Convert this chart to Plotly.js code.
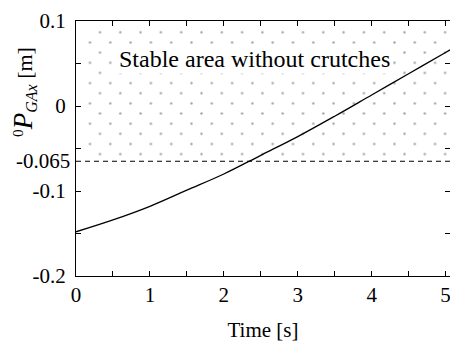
<!DOCTYPE html>
<html>
<head>
<meta charset="utf-8">
<script src="https://cdn.plot.ly/plotly-3.0.1.min.js"></script>
<style>html,body{margin:0;padding:0;background:#fff;}#chart{width:450px;height:342px;}</style>
</head>
<body>
<div id="chart"></div>
<script>
// Data
const timeS = [0, 0.5, 1.0, 1.5, 2.0, 2.5, 3.0, 3.5, 4.0, 4.5, 5.0, 5.06];
const pGAx  = [-0.148, -0.134, -0.118, -0.099, -0.080, -0.058, -0.036, -0.012, 0.013, 0.038, 0.063, 0.066];
const stableLimit = -0.065;
const xRange = [0, 5.06];
const yRange = [-0.2, 0.1];
const xTickVals = [0, 0.5, 1, 1.5, 2, 2.5, 3, 3.5, 4, 4.5, 5];
const xTickText = ['0', '', '1', '', '2', '', '3', '', '4', '', '5'];
const yTickVals = [-0.2, -0.15, -0.1, -0.05, 0, 0.05, 0.1];
const yTickText = ['-0.2', '', '-0.1', '', '0', '', '0.1'];
const regionLabel = 'Stable area without crutches';

const serif = 'Liberation Serif';

// geometry (pixels)
const W = 450, H = 342, mL = 76, mR = 0, mT = 21, mB = 66;
const plotW = W - mL - mR, plotH = H - mT - mB;
const pxPerX = plotW / (xRange[1] - xRange[0]);
const pxPerY = plotH / (yRange[1] - yRange[0]);

// staggered dot pattern: two square dot lattices, offset by half a cell
const dotCell = 20.3;
const layerOrigins = [[89.85, 22.15], [79.85, 32.35]];

function layerAxes(o) {
  const ox = o[0], oy = o[1];
  return {
    x: {domain: [(ox - mL) / plotW, 1], range: [xRange[0] + (ox - mL) / pxPerX, xRange[1]], visible: false},
    y: {domain: [0, 1 - (oy - mT) / plotH], range: [yRange[0], yRange[1] - (oy - mT) / pxPerY], visible: false}
  };
}
const la = layerAxes(layerOrigins[0]);
const lb = layerAxes(layerOrigins[1]);

function patternTrace(xa, ya) {
  return {
    x: [xRange[0], xRange[1], xRange[1], xRange[0]],
    y: [stableLimit, stableLimit, yRange[1], yRange[1]],
    xaxis: xa, yaxis: ya,
    type: 'scatter', mode: 'lines', fill: 'toself',
    line: {width: 0, color: 'rgba(0,0,0,0)'},
    fillcolor: 'rgba(0,0,0,0)',
    fillpattern: {shape: '.', fgcolor: '#a4a4a4', bgcolor: 'rgba(0,0,0,0)', size: dotCell, solidity: 0.011},
    hoverinfo: 'skip', showlegend: false
  };
}

const traces = [
  patternTrace('x', 'y'),
  patternTrace('x2', 'y2'),
  {
    x: [xRange[0], xRange[1]],
    y: [stableLimit, stableLimit],
    xaxis: 'x3', yaxis: 'y3',
    type: 'scatter', mode: 'lines',
    line: {color: 'black', width: 1, dash: '5px,4px'},
    showlegend: false
  },
  {
    x: timeS, y: pGAx,
    xaxis: 'x3', yaxis: 'y3',
    type: 'scatter', mode: 'lines',
    line: {color: 'black', width: 1.3, shape: 'spline'},
    showlegend: false
  }
];

const layout = {
  width: W, height: H,
  margin: {l: mL, r: mR, t: mT, b: mB},
  paper_bgcolor: 'white', plot_bgcolor: 'rgba(0,0,0,0)',
  font: {family: serif, color: 'black', size: 21},
  showlegend: false,
  xaxis: Object.assign({anchor: 'y'}, la.x),
  yaxis: Object.assign({anchor: 'x'}, la.y),
  xaxis2: Object.assign({anchor: 'y2'}, lb.x),
  yaxis2: Object.assign({anchor: 'x2'}, lb.y),
  xaxis3: {
    anchor: 'y3', domain: [0, 1],
    range: xRange, showgrid: false, zeroline: false,
    showline: true, linecolor: 'black', linewidth: 1, mirror: 'ticks',
    ticks: 'inside', ticklen: 5, tickcolor: 'black', tickwidth: 1,
    tickvals: xTickVals, ticktext: xTickText,
    tickfont: {family: serif, size: 21},
    ticklabeloverflow: 'allow',
    title: {text: 'Time [s]', font: {family: serif, size: 21}, standoff: 17}
  },
  yaxis3: {
    anchor: 'x3', domain: [0, 1],
    range: yRange, showgrid: false, zeroline: false,
    showline: true, linecolor: 'black', linewidth: 1, mirror: 'ticks',
    ticks: 'inside', ticklen: 5, tickcolor: 'black', tickwidth: 1,
    tickvals: yTickVals, ticktext: yTickText,
    tickfont: {family: serif, size: 21},
    ticklabelstandoff: 5
  },
  annotations: [
    {
      x: 2.415, y: 0.055, xref: 'x3', yref: 'y3',
      text: regionLabel, showarrow: false,
      font: {family: serif, size: 24, color: 'black'},
      bgcolor: 'white', borderpad: 1
    },
    {
      x: (72 - mL) / plotW, y: stableLimit, xref: 'paper', yref: 'y3',
      xanchor: 'right', yanchor: 'middle', showarrow: false,
      text: String(stableLimit),
      font: {family: serif, size: 21, color: 'black'}
    },
    {
      x: (24 - mL) / plotW, y: 1 - (92 - mT) / plotH, xref: 'paper', yref: 'paper',
      xanchor: 'center', yanchor: 'middle',
      text: '<sup>0</sup><i><span style="font-size:27px">P</span></i><sub><i><span style="font-size:16px">GAx</span></i></sub> [m]',
      textangle: -90, showarrow: false,
      font: {family: serif, size: 22, color: 'black'}
    }
  ]
};

Plotly.newPlot('chart', traces, layout, {displayModeBar: false, staticPlot: true});
</script>
</body>
</html>
